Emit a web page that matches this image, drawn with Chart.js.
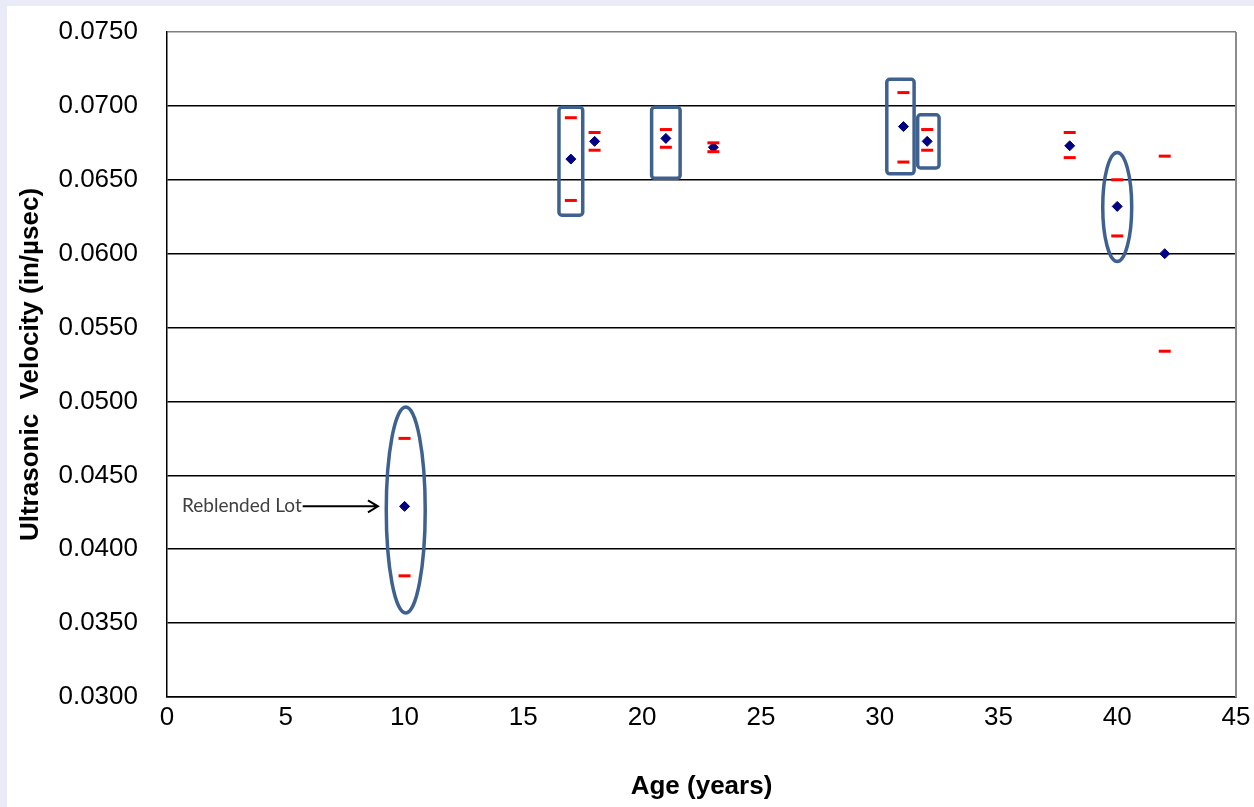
<!DOCTYPE html>
<html>
<head>
<meta charset="utf-8">
<script src="https://cdn.jsdelivr.net/npm/chart.js@4/dist/chart.umd.min.js"></script>
<style>
  html, body { margin: 0; padding: 0; background: #e9ecf6; }
  #wrap { position: absolute; left: 7px; top: 6px; width: 1247px; height: 801px; background: #fff; }
</style>
</head>
<body>
<div id="wrap"><canvas id="chart"></canvas></div>
<script>
// ages of the lots and the measured velocities (in/usec)
var ages = [10, 17, 18, 21, 23, 31, 32, 38, 40, 42];
var meanVelocity = [0.0429, 0.0664, 0.0676, 0.0678, 0.0672, 0.0686, 0.0676, 0.0673, 0.0632, 0.0600];
var upperLimit = [0.0475, 0.0692, 0.0682, 0.0684, 0.0675, 0.0709, 0.0684, 0.0682, 0.0650, 0.0666];
var lowerLimit = [0.0382, 0.0636, 0.0670, 0.0672, 0.0669, 0.0662, 0.0670, 0.0665, 0.0612, 0.0534];

// hand drawn callouts, in data units: [xMin, xMax, yMin, yMax]
var boxMarks = [[16.5, 17.5, 0.0626, 0.0699], [20.4, 21.6, 0.0651, 0.0699], [30.3, 31.45, 0.0654, 0.0718], [31.6, 32.5, 0.0658, 0.0694]];
// [xCenter, yCenter, xRadius, yRadius]
var ellipseMarks = [[10.05, 0.04265, 0.82, 0.00697], [40.0, 0.06316, 0.61, 0.00369]];
var noteLabel = 'Reblended Lot';

function toPoints(ys) {
    return ages.map(function(a, i) { return { x: a, y: ys[i] }; });
}

var calloutPlugin = {
    id: 'callouts',
    afterDatasetsDraw: function(chart) {
        var ctx = chart.ctx;
        var xs = chart.scales.x, ys = chart.scales.y;
        var area = chart.chartArea;
        ctx.save();

        // right edge of plot area is grey in the original
        ctx.strokeStyle = '#8c8c8c';
        ctx.lineWidth = 2;
        ctx.beginPath();
        ctx.moveTo(area.right, area.top);
        ctx.lineTo(area.right, area.bottom);
        ctx.stroke();

        ctx.strokeStyle = '#3f6190';
        ctx.lineWidth = 3.5;
        boxMarks.forEach(function(b) {
            var x0 = xs.getPixelForValue(b[0]), x1 = xs.getPixelForValue(b[1]);
            var y0 = ys.getPixelForValue(b[3]), y1 = ys.getPixelForValue(b[2]);
            ctx.beginPath();
            ctx.roundRect(x0, y0, x1 - x0, y1 - y0, 3);
            ctx.stroke();
        });
        ellipseMarks.forEach(function(e) {
            var cx = xs.getPixelForValue(e[0]), cy = ys.getPixelForValue(e[1]);
            var rx = xs.getPixelForValue(e[0] + e[2]) - cx;
            var ry = cy - ys.getPixelForValue(e[1] + e[3]);
            ctx.beginPath();
            ctx.ellipse(cx, cy, rx, ry, 0, 0, Math.PI * 2);
            ctx.stroke();
        });

        // the reblended lot note + arrow
        var ty = ys.getPixelForValue(meanVelocity[0]);
        var tx = xs.getPixelForValue(0.63);
        ctx.font = '19px Lato, "Open Sans", sans-serif';
        ctx.fillStyle = '#404040';
        ctx.textBaseline = 'middle';
        ctx.fillText(noteLabel, tx, ty);
        var ax0 = tx + ctx.measureText(noteLabel).width + 1;
        var ax1 = xs.getPixelForValue(8.88);
        ctx.strokeStyle = '#000';
        ctx.lineWidth = 2;
        ctx.beginPath();
        ctx.moveTo(ax0, ty);
        ctx.lineTo(ax1, ty);
        ctx.moveTo(ax1 - 10, ty - 6);
        ctx.lineTo(ax1, ty);
        ctx.lineTo(ax1 - 10, ty + 6);
        ctx.stroke();

        ctx.restore();
    }
};

var tickFont = { family: '"Liberation Sans", Arial, sans-serif', size: 26 };
var titleFont = { family: '"Liberation Sans", Arial, sans-serif', size: 26, weight: 'bold' };

var ctx = document.getElementById('chart').getContext('2d');
var chart = new Chart(ctx, {
    type: 'scatter',
    data: {
        datasets: [{
            label: 'Upper',
            data: toPoints(upperLimit),
            pointStyle: 'line',
            pointRadius: 6,
            borderWidth: 3,
            borderColor: '#ff0000',
            backgroundColor: '#ff0000'
        }, {
            label: 'Lower',
            data: toPoints(lowerLimit),
            pointStyle: 'line',
            pointRadius: 6,
            borderWidth: 3,
            borderColor: '#ff0000',
            backgroundColor: '#ff0000'
        }, {
            label: 'Mean',
            data: toPoints(meanVelocity),
            pointStyle: 'rectRot',
            pointRadius: 5,
            borderWidth: 1,
            borderColor: '#000080',
            backgroundColor: '#000080'
        }]
    },
    options: {
        responsive: true,
        maintainAspectRatio: false,
        animation: false,
        layout: { padding: { top: 26, right: 18, left: 0, bottom: 0 } },
        plugins: { legend: { display: false }, tooltip: { enabled: false } },
        scales: {
            x: {
                type: 'linear',
                min: 0,
                max: 45,
                afterFit: function(scale) { scale.height = 110; scale.paddingLeft = 0; scale.paddingRight = 0; },
                ticks: { stepSize: 5, font: tickFont, color: '#000', padding: 5 },
                grid: { display: false, drawTicks: false },
                border: { color: '#000', width: 1.5 },
                title: { display: true, text: 'Age (years)', font: titleFont, color: '#000', padding: { top: 0, bottom: 5 } }
            },
            y: {
                min: 0.03,
                max: 0.075,
                afterFit: function(scale) { scale.width = 160; scale.paddingTop = 0; scale.paddingBottom = 0; },
                ticks: {
                    stepSize: 0.005,
                    font: tickFont,
                    color: '#000',
                    padding: 29,
                    callback: function(v) { return v.toFixed(4); }
                },
                grid: {
                    drawTicks: false,
                    lineWidth: 1.5,
                    color: function(c) { return c.index === 9 ? '#7f7f7f' : '#000'; }
                },
                border: { color: '#000', width: 1.5 },
                title: { display: true, text: 'Ultrasonic  Velocity (in/µsec)', font: titleFont, color: '#000', padding: { top: 8, bottom: 0 } }
            }
        }
    },
    plugins: [calloutPlugin]
});
</script>
</body>
</html>
